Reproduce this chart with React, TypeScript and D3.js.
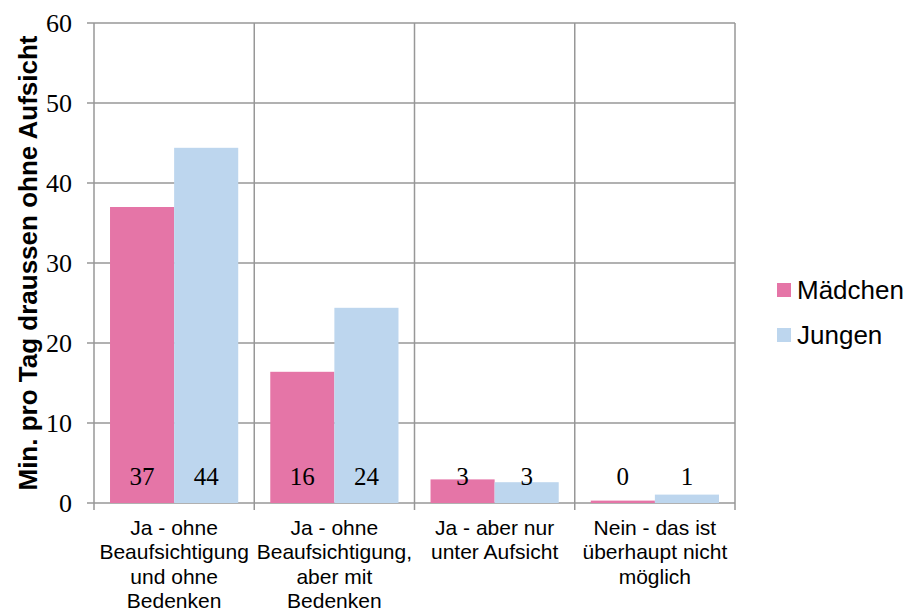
import React from "react";
import * as d3 from "d3";

const categories: string[][] = [
  ["Ja - ohne", "Beaufsichtigung", "und ohne", "Bedenken"],
  ["Ja - ohne", "Beaufsichtigung,", "aber mit", "Bedenken"],
  ["Ja - aber nur", "unter Aufsicht"],
  ["Nein - das ist", "überhaupt nicht", "möglich"],
];
const seriesNames = ["Mädchen", "Jungen"];
const maedchen = [37, 16.4, 2.95, 0.3];
const jungen = [44.4, 24.4, 2.6, 1.05];
const labelsM = ["37", "16", "3", "0"];
const labelsJ = ["44", "24", "3", "1"];
const yTicks = [0, 10, 20, 30, 40, 50, 60];
const colors = ["#E575A7", "#BDD6EE"];

export default function App() {
  const W = 907, H = 613;
  const left = 94, right = 735, top = 23, bottom = 503;
  const x = d3.scaleBand<number>().domain(d3.range(4)).range([left, right]);
  const inner = d3.scaleBand<number>().domain([0, 1]).range([0, x.bandwidth()]).paddingOuter(0.25).paddingInner(0);
  const y = d3.scaleLinear().domain([0, 60]).range([bottom, top]);
  const series = [maedchen, jungen];
  const labels = [labelsM, labelsJ];
  const grid = "#979797";
  return (
    <svg width={W} height={H} style={{ position: "absolute", left: 0, top: 0 }}>
      <rect width={W} height={H} fill="#fff" />
      {yTicks.map((t) => (
        <g key={t}>
          <line x1={left - 7} x2={right} y1={y(t)} y2={y(t)} stroke={grid} strokeWidth={1.5} />
          <text x={72} y={y(t)} dy="0.35em" textAnchor="end" fontFamily="Liberation Serif" fontSize={26} fill="#000">{t}</text>
        </g>
      ))}
      {d3.range(5).map((i) => {
        const xv = left + i * x.step();
        return <line key={i} x1={xv} x2={xv} y1={top} y2={bottom + 7} stroke={grid} strokeWidth={1.5} />;
      })}
      {series.map((s, si) =>
        s.map((v, ci) => (
          <rect key={`${si}-${ci}`} x={(x(ci) as number) + (inner(si) as number)} y={y(v)} width={inner.bandwidth()} height={bottom - y(v)} fill={colors[si]} />
        ))
      )}
      {series.map((s, si) =>
        s.map((v, ci) => (
          <text key={`l${si}-${ci}`} x={(x(ci) as number) + (inner(si) as number) + inner.bandwidth() / 2} y={485} textAnchor="middle" fontFamily="Liberation Serif" fontSize={25} fill="#000">{labels[si][ci]}</text>
        ))
      )}
      {categories.map((lines, ci) => (
        <text key={ci} textAnchor="middle" fontFamily="Liberation Sans" fontSize={21} fill="#000">
          {lines.map((ln, li) => (
            <tspan key={li} x={(x(ci) as number) + x.bandwidth() / 2} y={535 + li * 24.3}>{ln}</tspan>
          ))}
        </text>
      ))}
      <text transform={`translate(37,${(top + bottom) / 2}) rotate(-90)`} textAnchor="middle" fontFamily="Liberation Sans" fontWeight="bold" fontSize={26} fill="#000">Min. pro Tag draussen ohne Aufsicht</text>
      {seriesNames.map((n, i) => (
        <g key={n}>
          <rect x={777} y={283 + i * 45} width={14} height={14} fill={colors[i]} />
          <text x={797} y={290 + i * 45} dy="0.35em" fontFamily="Liberation Sans" fontSize={26} fill="#000">{n}</text>
        </g>
      ))}
    </svg>
  );
}
